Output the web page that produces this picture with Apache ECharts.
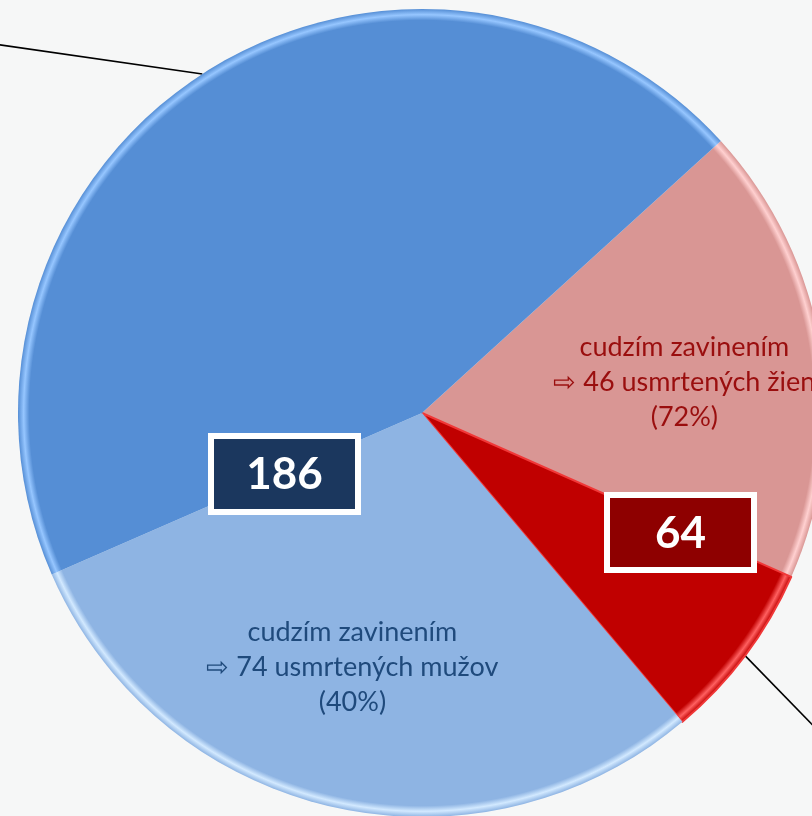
<!DOCTYPE html>
<html lang="sk">
<head>
<meta charset="UTF-8">
<title>usmrtení</title>
<script src="https://cdn.jsdelivr.net/npm/echarts@6/dist/echarts.min.js"></script>
<style>
  html, body { margin: 0; padding: 0; background: #f6f7f7; }
  #chart { width: 812px; height: 816px; }
</style>
</head>
<body>
<div id="chart"></div>
<script>
// slices, clockwise from the upper right
const sliceNames = ['ženy cudzím zavinením', 'ženy ostatné', 'muži cudzím zavinením', 'muži ostatní'];
const sliceValues = [46, 18, 74, 112];
const sliceColors = ['#D99694', '#C00000', '#8EB4E3', '#558ED5'];
const rimColors = ['#FFD0D0', '#FF6060', '#D2E9FF', '#96C6FF'];
const labelColors = ['#9A0E0E', null, '#1F4A7C', null];

const womenTotal = sliceValues[0] + sliceValues[1];
const menTotal = sliceValues[2] + sliceValues[3];

const cx = 422, cy = 413, R = 404;

const chart = echarts.init(document.getElementById('chart'));

function rim(base, light) {
  return new echarts.graphic.RadialGradient(cx, cy, R, [
    { offset: 0, color: base },
    { offset: 0.972, color: base },
    { offset: 0.986, color: light },
    { offset: 1, color: base }
  ], true);
}

function insideText(i, who) {
  const total = i < 2 ? womenTotal : menTotal;
  const pct = Math.round(sliceValues[i] / total * 100);
  return 'cudzím zavinením\n⇨ ' + sliceValues[i] + ' usmrtených ' + who + '\n(' + pct + '%)';
}

// leader lines that run out of the picture
const leaderDirs = { 1: [68, 70], 3: [-202, -29] };
// shift of the inside labels
const labelShift = { 0: [60, 2], 2: [-23, 55] };

const data = sliceValues.map(function (v, i) {
  const item = {
    name: sliceNames[i],
    value: v,
    itemStyle: { color: rim(sliceColors[i], rimColors[i]) }
  };
  if (i === 0 || i === 2) {
    item.label = {
      show: true,
      position: 'inside',
      formatter: insideText(i, i === 0 ? 'žien' : 'mužov'),
      color: labelColors[i],
      fontFamily: 'Lato',
      fontSize: 27,
      lineHeight: 35,
      align: 'center'
    };
    item.labelLine = { show: false };
  } else {
    item.label = { show: true, position: 'outside', formatter: ' ', fontSize: 10 };
    item.labelLine = { show: true, length: 20, length2: 20, smooth: false, lineStyle: { color: '#000', width: 1.6 } };
  }
  if (i === 1) {
    item.itemStyle.borderColor = '#F03838';
    item.itemStyle.borderWidth = 2;
  }
  return item;
});

chart.setOption({
  backgroundColor: '#f6f7f7',
  animation: false,
  series: [{
    type: 'pie',
    center: [cx, cy],
    radius: R,
    startAngle: 42.3,
    clockwise: true,
    avoidLabelOverlap: false,
    silent: true,
    data: data,
    labelLayout: function (params) {
      const i = params.dataIndex;
      if (leaderDirs[i] && params.labelLinePoints) {
        const d = leaderDirs[i];
        const n = Math.sqrt(d[0] * d[0] + d[1] * d[1]);
        const p0 = params.labelLinePoints[0];
        const end = [p0[0] + d[0] / n * 500, p0[1] + d[1] / n * 500];
        return { labelLinePoints: [p0, end, end] };
      }
      if (labelShift[i]) {
        return { dx: labelShift[i][0], dy: labelShift[i][1] };
      }
      return {};
    }
  }],
  graphic: [
    {
      type: 'group', left: 208, top: 433, z: 100,
      children: [
        { type: 'rect', z: 100, shape: { x: 3, y: 3, width: 147, height: 76 }, style: { fill: '#1B375E', stroke: '#fff', lineWidth: 6 } },
        { type: 'text', z: 101, x: 76.5, y: 42, style: { text: String(menTotal), fill: '#fff', font: 'bold 44px Lato', align: 'center', verticalAlign: 'middle' } }
      ]
    },
    {
      type: 'group', left: 604, top: 492, z: 100,
      children: [
        { type: 'rect', z: 100, shape: { x: 3, y: 3, width: 147, height: 75 }, style: { fill: '#8E0000', stroke: '#fff', lineWidth: 6 } },
        { type: 'text', z: 101, x: 76.5, y: 41.5, style: { text: String(womenTotal), fill: '#fff', font: 'bold 44px Lato', align: 'center', verticalAlign: 'middle' } }
      ]
    }
  ]
});
</script>
</body>
</html>
